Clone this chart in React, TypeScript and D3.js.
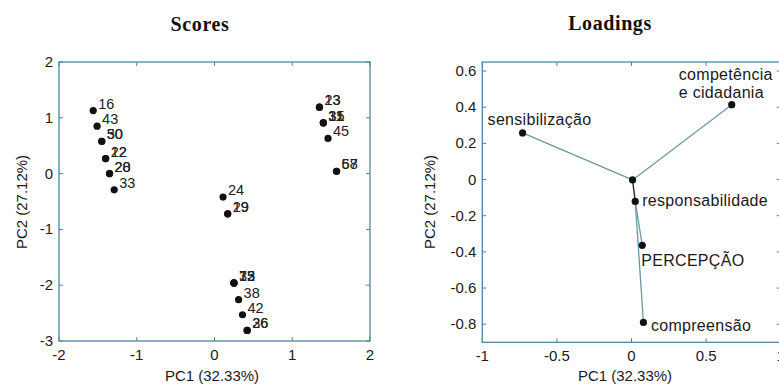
import React from "react";
import * as d3 from "d3";

// ---- Scores data ----
const scoreIds = ["16","43","30","50","12","22","20","28","33","13","23","11","31","35","45","57","68","24","19","29","15","73","32","38","42","26","36"];
const scorePC1 = [-1.56,-1.51,-1.45,-1.45,-1.40,-1.40,-1.35,-1.35,-1.29,1.35,1.35,1.40,1.40,1.40,1.46,1.57,1.57,0.11,0.17,0.17,0.25,0.25,0.25,0.31,0.36,0.42,0.42];
const scorePC2 = [1.13,0.85,0.58,0.58,0.27,0.27,0.0,0.0,-0.29,1.19,1.19,0.91,0.91,0.91,0.63,0.04,0.04,-0.42,-0.72,-0.72,-1.96,-1.96,-1.96,-2.26,-2.53,-2.81,-2.81];

// ---- Loadings data ----
const loadNames = ["", "sensibilização", "competência e cidadania", "responsabilidade", "PERCEPÇÃO", "compreensão"];
const loadPC1 = [0.007, -0.73, 0.672, 0.025, 0.072, 0.08];
const loadPC2 = [-0.002, 0.258, 0.414, -0.121, -0.364, -0.79];
const loadEdges: [number, number][] = [[0,1],[0,2],[0,3],[3,4],[3,5]];

const scoreXTicks = [-2,-1,0,1,2];
const scoreYTicks = [-3,-2,-1,0,1,2];
const loadXTicks = [-1,-0.5,0,0.5,1];
const loadYTicks = [-0.8,-0.6,-0.4,-0.2,0,0.2,0.4,0.6];

// label placement (pixels relative to point)
const loadLabelOffset: Record<string, [number, number]> = {
  "sensibilização": [-35, -8],
  "competência e cidadania": [-53, -25],
  "responsabilidade": [7, 5],
  "PERCEPÇÃO": [-1, 21],
  "compreensão": [7.5, 9],
};

const AXIS = "#4a879c";
const LINE = "#6e97a6";
const SANS = "'Liberation Sans', Arial, sans-serif";
const SERIF = "'Liberation Serif', 'Times New Roman', serif";

function fmt(v: number) {
  if (v === 0) return "0";
  return String(Math.round(v * 10) / 10);
}

function Frame({ x, y, xt, yt }: any) {
  const [x0, x1] = x.range();
  const [y0, y1] = y.range(); // y0 bottom, y1 top
  const tl = 4;
  return (
    <g>
      <rect x={x0} y={y1} width={x1 - x0} height={y0 - y1} fill="none" stroke={AXIS} strokeWidth={1.3} />
      {xt.map((t: number) => (
        <g key={"x" + t}>
          <line x1={x(t)} x2={x(t)} y1={y0} y2={y0 - tl} stroke={AXIS} />
          <line x1={x(t)} x2={x(t)} y1={y1} y2={y1 + tl} stroke={AXIS} />
          <text x={x(t)} y={y0 + 19} textAnchor="middle" fontFamily={SANS} fontSize={15} fill="#1a1a1a">{fmt(t)}</text>
        </g>
      ))}
      {yt.map((t: number) => (
        <g key={"y" + t}>
          <line x1={x0} x2={x0 + tl} y1={y(t)} y2={y(t)} stroke={AXIS} />
          <line x1={x1} x2={x1 - tl} y1={y(t)} y2={y(t)} stroke={AXIS} />
          <text x={x0 - 6} y={y(t) + 5} textAnchor="end" fontFamily={SANS} fontSize={15} fill="#1a1a1a">{fmt(t)}</text>
        </g>
      ))}
    </g>
  );
}

export default function App() {
  const sx = d3.scaleLinear().domain([-2, 2]).range([59, 370]);
  const sy = d3.scaleLinear().domain([-3, 2]).range([341, 62]);
  const lx = d3.scaleLinear().domain([-1, 1]).range([482.3, 780.7]);
  const ly = d3.scaleLinear().domain([-0.9, 0.65]).range([342.3, 62]);

  return (
    <svg width={779} height={387} style={{ position: "absolute", left: 0, top: 0, background: "#fff" }}>
      <rect x={0} y={0} width={779} height={387} fill="#fff" />
      {/* Titles */}
      <text x={200} y={31} textAnchor="middle" fontFamily={SERIF} fontWeight="bold" fontSize={20} letterSpacing={0.6} fill="#111">Scores</text>
      <text x={610} y={30} textAnchor="middle" fontFamily={SERIF} fontWeight="bold" fontSize={20} letterSpacing={0.6} fill="#111">Loadings</text>

      {/* Scores panel */}
      <Frame x={sx} y={sy} xt={scoreXTicks} yt={scoreYTicks} />
      {scoreIds.map((id, i) => (
        <g key={"s" + i}>
          <circle cx={sx(scorePC1[i])} cy={sy(scorePC2[i])} r={3.6} fill="#111" />
          <text x={sx(scorePC1[i]) + 5} y={sy(scorePC2[i]) - 2} fontFamily={SANS} fontSize={14.5} fill="#222">{id}</text>
        </g>
      ))}
      <text x={212} y={381} textAnchor="middle" fontFamily={SANS} fontSize={15} fill="#1a1a1a">PC1 (32.33%)</text>
      <text transform={`translate(27,202) rotate(-90)`} textAnchor="middle" fontFamily={SANS} fontSize={15} fill="#1a1a1a">PC2 (27.12%)</text>

      {/* Loadings panel */}
      <Frame x={lx} y={ly} xt={loadXTicks} yt={loadYTicks} />
      {loadEdges.map(([a, b], i) => (
        <line key={"e" + i} x1={lx(loadPC1[a])} y1={ly(loadPC2[a])} x2={lx(loadPC1[b])} y2={ly(loadPC2[b])}
          stroke={a === 0 && b === 3 ? "#222" : LINE} strokeWidth={1.3} />
      ))}
      {loadNames.map((n, i) => {
        const px = lx(loadPC1[i]);
        const py = ly(loadPC2[i]);
        const off = loadLabelOffset[n];
        const lines = n === "competência e cidadania" ? ["competência", "e cidadania"] : [n];
        return (
          <g key={"l" + i}>
            <circle cx={px} cy={py} r={3.6} fill="#111" />
            {off && lines.map((t, k) => (
              <text key={k} x={px + off[0]} y={py + off[1] + k * 18} fontFamily={SANS} fontSize={16} letterSpacing={0.3} fill="#1a1a1a">{t}</text>
            ))}
          </g>
        );
      })}
      <text x={625} y={381} textAnchor="middle" fontFamily={SANS} fontSize={15} fill="#1a1a1a">PC1 (32.33%)</text>
      <text transform={`translate(435,202) rotate(-90)`} textAnchor="middle" fontFamily={SANS} fontSize={15} fill="#1a1a1a">PC2 (27.12%)</text>
    </svg>
  );
}
